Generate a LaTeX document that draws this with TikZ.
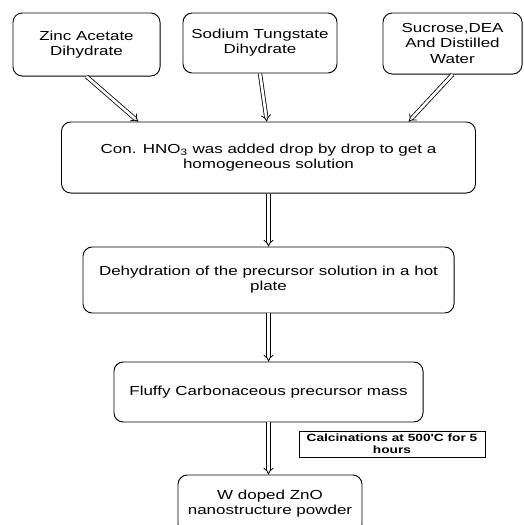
\documentclass[tikz,border=0pt]{standalone}
\usepackage{fontspec}
\setmainfont{Liberation Sans}[FakeStretch=1.3,Ligatures=TeXOff]
\usetikzlibrary{positioning,calc,arrows.meta}
\tikzset{pbox/.style={draw, rounded corners=7, line width=0.7pt, align=center, inner sep=0pt, font=\fontsize{9.8}{11.3}\selectfont}}
\tikzset{cbox/.style={draw, line width=0.7pt, align=center, inner sep=0pt, font=\fontsize{7.9}{9}\selectfont\bfseries}}
\tikzset{arr3/.style={draw, double, double distance=2pt, line width=0.6pt, -{Implies}}}

\begin{document}
\begin{tikzpicture}[x=0.75pt, y=-0.75pt]
	\useasboundingbox (0,0) rectangle (524,525);
	% starting materials
	\node[pbox, minimum width=110.3pt, minimum height=47.3pt] (Zn) at (86.5,44.5) {Zinc Acetate\\Dihydrate};
	\node[pbox, minimum width=115.5pt, minimum height=45pt] (W) at (260,43) {Sodium Tungstate\\Dihydrate};
	\node[pbox, minimum width=104.3pt, minimum height=45.8pt] (Suc) at (452.5,43.5) {Sucrose,DEA\\And Distilled\\Water};
	%
	\node[pbox, minimum width=310.5pt, minimum height=53.3pt] (H) at (268.5,157.5) {Con. HNO\textsubscript{3} was added drop by drop to get a\\homogeneous solution};
	\node[pbox, minimum width=278.3pt, minimum height=49.5pt] (D) at (268.5,280) {Dehydration of the precursor solution in a hot\\plate};
	\node[pbox, minimum width=231.8pt, minimum height=45pt] (F) at (268.5,392) {Fluffy Carbonaceous precursor mass};
	\node[pbox, minimum width=138pt, minimum height=43.5pt] (P) at (270,504) {W doped ZnO\\nanostructure powder};
	\node[cbox, minimum width=139.5pt, minimum height=19.5pt] (C) at (392,444) {Calcinations at 500'C for 5\\hours};
	%
	\draw[arr3] (Zn.south) -- ($(H.north west)!0.186!(H.north east)$);
	\draw[arr3] (W.south) -- ($(H.north west)!0.496!(H.north east)$);
	\draw[arr3] (Suc.south) -- ($(H.north west)!0.838!(H.north east)$);
	\draw[arr3] (H.south) -- (D.north);
	\draw[arr3] (D.south) -- (F.north);
	\draw[arr3] (F.south) -- (F.south |- P.north);
\end{tikzpicture}
\end{document}
